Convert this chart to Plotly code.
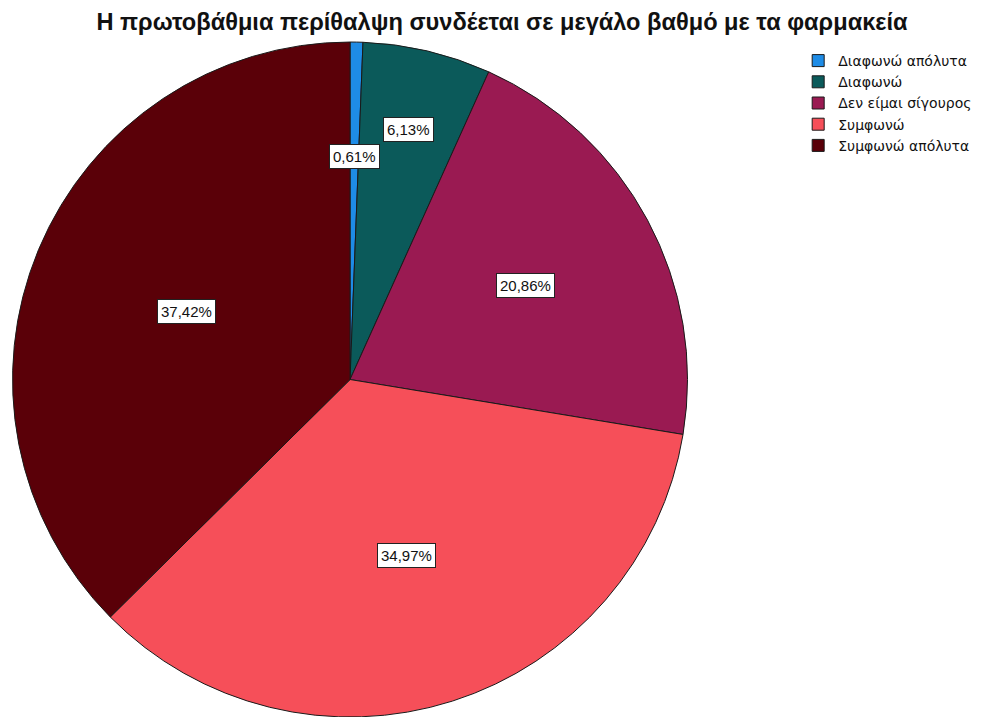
import math
import plotly.graph_objects as go

# Survey responses (percent)
categories = ["Διαφωνώ απόλυτα", "Διαφωνώ", "Δεν είμαι σίγουρος", "Συμφωνώ", "Συμφωνώ απόλυτα"]
percentages = [0.61, 6.13, 20.86, 34.97, 37.42]
value_labels = ["0,61%", "6,13%", "20,86%", "34,97%", "37,42%"]

colors = ["#1e8ce6", "#0b5a5a", "#9a1a52", "#f64f59", "#5a0008"]
# radial position of each value box, as a fraction of the pie radius
label_radius = [0.66, 0.76, 0.59, 0.546, 0.524]

W, H = 1004, 717
title = "Η πρωτοβάθμια περίθαλψη συνδέεται σε μεγάλο βαθμό με τα φαρμακεία"

# pie placement (paper fractions)
dom_x = [0.0125, 0.6848]
dom_y = [0.0, 0.9414]

fig = go.Figure(
    go.Pie(
        labels=categories,
        values=percentages,
        sort=False,
        direction="clockwise",
        rotation=0,
        marker=dict(colors=colors, line=dict(color="#1a1a1a", width=1)),
        textinfo="none",
        hoverinfo="label+percent",
        domain=dict(x=dom_x, y=dom_y),
    )
)

# value boxes placed along each slice's mid-angle
cx_px = (dom_x[0] + dom_x[1]) / 2 * W
cy_px = (1 - (dom_y[0] + dom_y[1]) / 2) * H
R = min((dom_x[1] - dom_x[0]) * W, (dom_y[1] - dom_y[0]) * H) / 2
total = sum(percentages)
cum = 0.0
for v, txt, rf in zip(percentages, value_labels, label_radius):
    mid = (cum + v / 2) / total * 2 * math.pi
    cum += v
    px = cx_px + rf * R * math.sin(mid)
    py = cy_px - rf * R * math.cos(mid)
    fig.add_annotation(
        x=px / W, y=1 - py / H, xref="paper", yref="paper",
        xanchor="center", yanchor="middle",
        text=txt, showarrow=False,
        font=dict(family="Arial, Liberation Sans, sans-serif", size=15, color="#111111"),
        bgcolor="white", bordercolor="#222222", borderwidth=1, borderpad=3,
    )

fig.update_layout(
    width=W, height=H,
    margin=dict(l=0, r=0, t=0, b=0),
    paper_bgcolor="white",
    title=dict(
        text="<b>" + title + "</b>",
        x=0.5, xanchor="center", y=1 - 22 / H, yanchor="middle",
        font=dict(family="Arial, Liberation Sans, sans-serif", size=23.6, color="#111111"),
    ),
    legend=dict(
        x=0.795, y=1 - 45 / H, xanchor="left", yanchor="top",
        font=dict(family="DejaVu Sans, sans-serif", size=14, color="#111111"),
        itemwidth=30, tracegroupgap=0, bgcolor="rgba(0,0,0,0)",
    ),
)

fig.write_html("out.html")
